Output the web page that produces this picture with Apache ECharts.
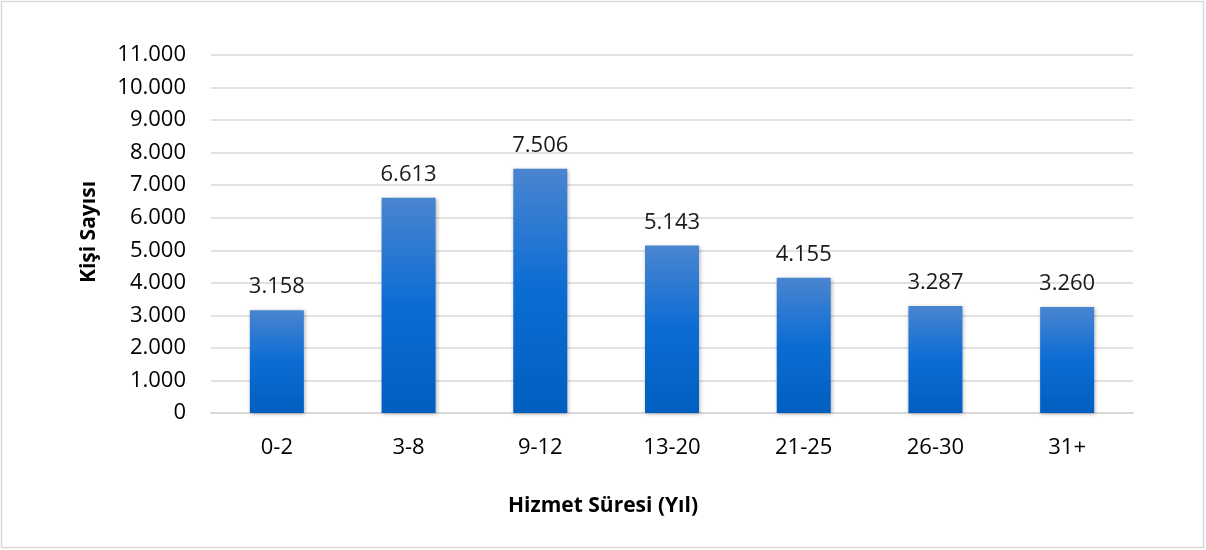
<!DOCTYPE html>
<html><head><meta charset="utf-8">
<script src="https://cdn.jsdelivr.net/npm/echarts@6/dist/echarts.min.js"></script>
<style>html,body{margin:0;padding:0;background:#fff}#c{width:1206px;height:550px}</style>
</head><body><div id="c"></div>
<script>
const categories = ['0-2','3-8','9-12','13-20','21-25','26-30','31+'];
const values = [3158, 6613, 7506, 5143, 4155, 3287, 3260];
const yAxisTitle = 'Kişi Sayısı';
const xAxisTitle = 'Hizmet Süresi (Yıl)';
const fmt = v => String(v).replace(/\B(?=(\d{3})+(?!\d))/g, '.');
const font = '"Open Sans", "Noto Sans", sans-serif';
const chart = echarts.init(document.getElementById('c'));
chart.setOption({
  animation: false,
  backgroundColor: '#fff',
  grid: {left: 211, right: 73, top: 55, bottom: 137},
  graphic: [
    {type: 'rect', shape: {x: 1.5, y: 1.5, width: 1202, height: 546}, style: {fill: 'none', stroke: '#d9d9d9', lineWidth: 1.5}},
    {type: 'text', x: 603, y: 506, style: {text: xAxisTitle, font: 'bold 21px ' + font, fill: '#000', align: 'center', verticalAlign: 'middle'}},
    {type: 'text', x: 89, y: 232, rotation: Math.PI/2, style: {text: yAxisTitle, font: 'bold 21px ' + font, fill: '#000', align: 'center', verticalAlign: 'middle'}}
  ],
  xAxis: {
    type: 'category', data: categories,
    axisLine: {lineStyle: {color: '#d9d9d9', width: 2}},
    axisTick: {show: false},
    axisLabel: {color: '#000', fontSize: 22, fontFamily: font, margin: 24}
  },
  yAxis: {
    type: 'value', min: 0, max: 11000, interval: 1000,
    axisLine: {show: false}, axisTick: {show: false},
    splitLine: {lineStyle: {color: '#d9d9d9', width: 1.5}},
    axisLabel: {color: '#000', fontSize: 22, fontFamily: font, margin: 25, formatter: fmt}
  },
  series: [{
    type: 'bar', data: values, barWidth: '41%',
    itemStyle: {
      color: new echarts.graphic.LinearGradient(0, 0, 0, 1, [
        {offset: 0, color: '#4a85d0'},
        {offset: 0.5, color: '#0b6cd4'},
        {offset: 1, color: '#005fbf'}
      ]),
      shadowColor: 'rgba(0,0,0,0.3)', shadowBlur: 4, shadowOffsetX: 1, shadowOffsetY: 1
    },
    label: {show: true, position: 'top', distance: 12, color: '#1a1a1a', fontSize: 22, fontFamily: font, formatter: p => fmt(p.value)}
  }]
});
</script></body></html>
